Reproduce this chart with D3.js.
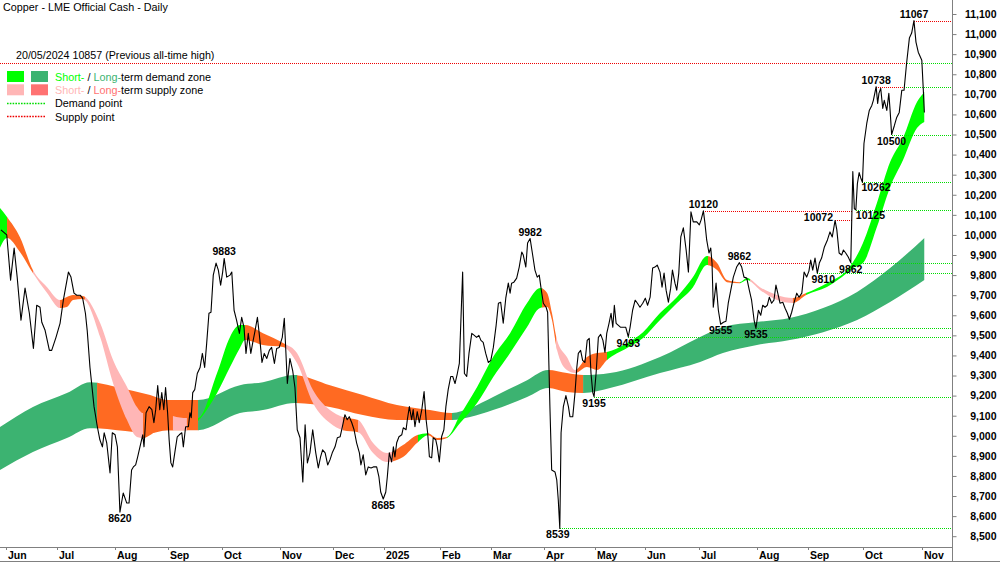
<!DOCTYPE html>
<html><head><meta charset="utf-8">
<script src="https://cdn.jsdelivr.net/npm/d3@7/dist/d3.min.js"></script>
<style>
html,body{margin:0;padding:0;background:#fff;}
svg{display:block;font-family:"Liberation Sans",Arial,sans-serif;}
</style></head>
<body><svg id="chart" width="1000" height="562"></svg>
<script>
// ---------------- DATA ----------------
const chartTitle = "Copper - LME Official Cash - Daily";
const yTickValues = d3.range(8500, 11101, 100);
const monthStarts = ["2024-06","2024-07","2024-08","2024-09","2024-10","2024-11","2024-12","2025-01","2025-02","2025-03","2025-04","2025-05","2025-06","2025-07","2025-08","2025-09","2025-10","2025-11"];
const monthLabels = ["Jun","Jul","Aug","Sep","Oct","Nov","Dec","2025","Feb","Mar","Apr","May","Jun","Jul","Aug","Sep","Oct","Nov"];
const calendarStart = "2024-05-30", calendarEnd = "2025-11-28";
const holidays = ["2024-08-26","2024-12-25","2024-12-26","2025-01-01","2025-04-18","2025-04-21","2025-05-05","2025-05-26","2025-08-25"];

// price: [trading day number since 30/05/2024, official cash price]
const price = [
[0.0,10025],[2.3,10000],[3.8,9775],[5.2,9935],[6.4,9790],[7.9,9575],[9.5,9735],[11.2,9610],[12.8,9435],[14.1,9650],[15.4,9640],[16.1,9565],[17.4,9525],[19.1,9425],[20.0,9425],[21.7,9490],[23.3,9560],[24.6,9675],[26.6,9815],[27.6,9790],[28.8,9710],[29.9,9700],[31.2,9700],[32.2,9685],[33.3,9610],[34.0,9525],[35.1,9340],[36.7,9145],[38.0,9045],[39.0,8980],[40.0,8945],[40.7,9015],[41.7,8965],[43.0,8815],[43.9,9015],[45.0,9005],[45.9,8945],[46.9,8620],[48.2,8715],[49.6,8665],[50.5,8665],[51.5,8830],[52.2,8845],[53.1,8855],[53.9,8895],[54.8,8945],[55.9,9005],[56.4,8945],[57.2,9115],[58.4,9145],[59.5,9130],[60.3,9065],[61.0,9130],[61.8,9250],[62.6,9130],[63.4,9215],[64.2,9130],[64.9,9240],[65.7,9115],[66.3,8980],[67.0,8865],[67.7,8845],[68.7,8930],[69.5,8995],[70.3,9005],[71.3,9015],[71.9,8945],[72.8,9045],[73.9,9045],[74.5,9115],[75.0,9090],[75.6,9215],[76.4,9230],[77.4,9310],[78.5,9340],[79.4,9410],[80.3,9340],[81.1,9460],[82.0,9610],[82.8,9615],[83.7,9800],[84.8,9860],[85.7,9825],[86.6,9750],[87.4,9815],[88.0,9883],[89.0,9790],[90.3,9800],[91.0,9815],[91.9,9625],[92.9,9575],[94.0,9510],[94.9,9590],[95.8,9540],[96.6,9410],[97.5,9510],[98.5,9410],[99.2,9460],[100.2,9525],[101.1,9590],[102.1,9475],[102.9,9365],[103.8,9410],[104.8,9385],[105.8,9425],[106.7,9440],[107.8,9360],[108.7,9435],[109.7,9440],[110.9,9490],[111.7,9585],[112.9,9260],[113.9,9385],[115.0,9325],[115.9,9240],[116.8,9030],[117.9,8990],[119.0,8770],[119.9,9055],[120.8,8865],[121.8,8915],[122.9,9030],[124.1,8915],[125.1,8840],[126.0,8895],[126.8,8930],[127.8,8915],[128.8,8855],[129.7,8880],[130.6,8915],[131.7,8945],[132.6,8990],[133.7,8995],[134.6,9045],[135.6,9105],[136.5,9080],[137.3,9095],[138.3,9065],[139.2,9030],[140.2,8965],[141.3,8915],[141.9,8855],[142.8,8905],[143.8,8805],[144.8,8845],[145.9,8840],[146.8,8845],[148.1,8845],[149.0,8795],[149.7,8720],[150.7,8685],[151.7,8720],[152.3,8795],[153.1,8915],[154.0,8870],[154.7,8945],[155.3,8895],[156.0,8965],[156.9,8995],[158.0,9005],[158.6,9040],[159.7,9030],[160.2,9080],[161.0,9145],[161.9,9080],[162.5,9130],[163.2,9045],[164.1,9120],[164.9,9065],[165.9,9130],[166.8,9220],[167.6,9080],[168.2,9015],[168.9,8895],[169.8,8890],[170.4,8990],[171.4,8980],[172.0,8945],[172.8,8870],[173.7,8995],[174.6,9030],[175.4,9145],[176.3,9230],[177.3,9295],[178.1,9295],[179.0,9260],[179.9,9310],[180.7,9360],[182.0,9815],[182.7,9310],[183.6,9295],[184.5,9410],[185.6,9510],[186.6,9500],[187.5,9490],[188.4,9500],[189.2,9475],[190.1,9465],[191.1,9410],[192.1,9365],[193.1,9375],[194.1,9440],[195.2,9550],[196.1,9660],[197.0,9665],[198.0,9560],[199.0,9685],[200.0,9760],[200.7,9710],[201.3,9760],[202.2,9765],[203.3,9785],[204.3,9840],[205.3,9915],[205.9,9900],[206.9,9840],[207.6,9960],[208.6,9982],[209.6,9900],[210.5,9825],[211.4,9790],[212.2,9800],[212.9,9735],[213.8,9660],[214.9,9640],[215.5,9615],[216.4,9145],[217.1,8830],[218.4,8820],[219.1,8780],[219.7,8680],[220.3,8539],[220.8,9015],[221.7,9145],[222.7,9200],[223.7,9145],[224.3,9095],[225.4,9095],[226.3,9215],[227.0,9340],[227.6,9410],[228.5,9425],[229.3,9375],[230.2,9365],[231.1,9475],[231.9,9485],[232.6,9310],[233.3,9215],[233.8,9195],[234.6,9310],[235.5,9490],[236.4,9505],[237.3,9475],[238.1,9415],[238.8,9510],[239.7,9560],[240.5,9610],[241.2,9540],[241.8,9650],[242.5,9560],[243.4,9550],[244.3,9540],[245.2,9540],[246.3,9540],[247.3,9493],[248.0,9540],[249.0,9625],[250.0,9675],[250.9,9660],[251.9,9640],[253.0,9660],[254.0,9685],[254.9,9650],[255.9,9690],[256.9,9835],[257.8,9840],[258.7,9850],[259.8,9815],[260.6,9740],[261.4,9810],[262.2,9725],[263.1,9665],[264.0,9735],[264.7,9825],[265.7,9760],[266.4,9725],[267.2,9810],[268.0,9990],[269.0,10035],[270.1,9925],[271.0,9815],[272.0,10115],[272.9,10065],[274.3,10065],[275.3,10050],[276.0,10075],[276.9,10120],[277.5,10060],[278.2,9975],[279.1,9910],[279.8,9935],[280.3,9860],[280.8,9640],[281.9,9760],[282.8,9625],[283.7,9555],[284.8,9565],[285.8,9570],[286.7,9660],[287.7,9725],[288.7,9790],[290.0,9840],[291.1,9862],[292.0,9840],[292.9,9790],[294.0,9785],[295.0,9725],[295.9,9675],[296.9,9575],[297.6,9535],[298.6,9625],[299.5,9600],[300.3,9650],[301.2,9640],[302.1,9650],[302.9,9690],[303.8,9660],[304.7,9675],[305.5,9750],[306.4,9700],[307.1,9660],[308.2,9665],[309.1,9635],[310.0,9610],[310.8,9580],[311.7,9615],[312.6,9660],[313.7,9710],[314.6,9690],[315.7,9710],[316.6,9815],[317.6,9790],[318.5,9820],[319.2,9875],[320.0,9825],[320.9,9885],[321.8,9810],[322.6,9860],[323.5,9885],[324.6,9940],[325.8,9975],[326.8,10015],[327.7,9990],[328.8,10072],[329.5,10025],[330.4,9910],[331.4,9900],[332.1,9925],[333.0,9910],[334.0,9890],[335.0,9862],[335.8,10315],[336.4,10130],[337.0,10125],[337.6,10255],[338.3,10310],[338.9,10285],[339.6,10262],[340.2,10455],[341.3,10555],[342.3,10620],[343.3,10645],[343.9,10670],[345.0,10738],[345.6,10655],[346.1,10705],[346.8,10730],[347.6,10630],[348.2,10670],[349.2,10620],[350.0,10705],[350.5,10620],[351.1,10500],[352.2,10545],[353.1,10585],[354.1,10610],[355.1,10720],[356.0,10720],[357.0,10855],[358.1,10980],[359.0,11005],[359.9,11067],[360.7,10960],[361.6,10910],[363.0,10870],[363.6,10720],[364.0,10610]
];

// long-term zone edges: [day, upper, lower]
const longZone = [
[-0.4,9043,8829],[12.6,9143,8919],[26.0,9213,8989],[35.1,9267,9038],[45.8,9242,9028],[58.8,9203,9013],[65.5,9178,9028],[77.7,9178,9028],[94.2,9252,9113],[103.3,9267,9128],[115.9,9302,9163],[129.7,9252,9143],[142.7,9203,9103],[156.1,9153,9078],[169.1,9128,9078],[177.8,9113,9078],[184.9,9138,9093],[194.0,9193,9128],[207.4,9277,9193],[215.7,9327,9238],[223.1,9312,9218],[229.5,9302,9213],[240.1,9312,9238],[259.8,9392,9312],[275.6,9492,9367],[284.6,9541,9412],[298.0,9566,9452],[311.0,9586,9477],[324.1,9636,9516],[337.5,9716,9576],[350.5,9835,9666],[364.0,9985,9775]
];
// short-term zone edges: [day, upper, lower]
const shortZone = [
[-0.4,10134,9935],[2.4,10089,9985],[7.5,9989,9915],[12.6,9825,9810],[18.2,9740,9711],[23.3,9676,9636],[26.0,9691,9641],[28.4,9701,9676],[32.3,9696,9681],[39.1,9561,9492],[44.2,9377,9262],[49.7,9243,9078],[53.6,9143,8994],[56.0,9113,8989],[62.7,9128,9028],[67.8,9098,9028],[73.3,9088,9028],[77.7,9088,9073],[85.2,9312,9213],[90.3,9492,9342],[94.2,9551,9437],[96.2,9551,9477],[103.3,9511,9452],[111.2,9462,9442],[116.7,9412,9362],[123.0,9228,9163],[129.7,9128,9063],[134.8,9093,9028],[140.8,9078,9018],[146.7,8964,8914],[152.2,8914,8869],[158.5,8954,8894],[164.0,9003,8964],[168.3,9013,9003],[171.9,8989,8979],[175.8,8994,8989],[181.0,9103,9063],[187.7,9243,9163],[194.0,9392,9292],[200.7,9511,9412],[207.4,9661,9541],[212.5,9736,9636],[215.3,9711,9641],[217.2,9611,9576],[219.2,9477,9427],[223.1,9392,9327],[226.3,9327,9312],[231.0,9392,9342],[235.0,9412,9327],[238.9,9417,9377],[246.8,9462,9437],[253.1,9516,9487],[259.8,9611,9576],[266.5,9691,9661],[272.8,9790,9740],[278.3,9895,9850],[282.3,9860,9825],[286.2,9775,9765],[291.3,9765,9760],[294.1,9785,9775],[299.2,9740,9726],[305.9,9701,9676],[312.2,9686,9661],[317.4,9711,9701],[325.6,9760,9741],[333.5,9825,9810],[335.9,9865,9835],[339.8,9960,9860],[345.3,10159,10039],[350.5,10363,10238],[355.6,10483,10373],[361.1,10662,10532],[364.0,10712,10562]
];
// zone states: [from day, to day, state]
const longZoneStates = [
[-0.4,37.9,"demand"],[37.9,77.7,"supply"],[77.7,116.7,"demand"],[116.7,177.8,"supply"],[177.8,216.0,"demand"],[216.0,229.5,"supply"],[229.5,364.0,"demand"]
];
const shortZoneStates = [
[-0.4,2.4,"demand"],[2.4,12.6,"supplyStrong"],[12.6,23.3,"supply"],[23.3,33.1,"supplyStrong"],[33.1,56.0,"supply"],[56.0,67.8,"supplyStrong"],[67.8,73.3,"supply"],[73.3,77.7,"supplyStrong"],[77.7,96.2,"demand"],[96.2,112.0,"supplyStrong"],[112.0,134.8,"supply"],[134.8,140.8,"supplyStrong"],[140.8,154.5,"supply"],[154.5,164.4,"supplyStrong"],[164.4,168.3,"demand"],[168.3,175.8,"supplyStrong"],[175.8,213.3,"demand"],[213.3,218.8,"supplyStrong"],[218.8,226.7,"supply"],[226.7,238.9,"supplyStrong"],[238.9,278.7,"demand"],[278.7,291.3,"supplyStrong"],[291.3,295.3,"demand"],[295.3,312.2,"supply"],[312.2,317.4,"supplyStrong"],[317.4,364.0,"demand"]
];

// supply (peaks) and demand (troughs) points: [day, value, line]
const supplyPoints = [[88.0,9883,"none"],[208.6,9982,"none"],[276.9,10120,"toBreak"],[291.1,9862,"toBreak"],[328.8,10072,"toBreak"],[345.0,10738,"flip"],[359.9,11067,"toBreak"]];
const demandPoints = [[46.9,8620,"none"],[150.7,8685,"none"],[220.3,8539,"toBreak"],[233.8,9195,"toBreak"],[247.3,9493,"toBreak"],[283.7,9555,"none"],[297.6,9535,"toBreak"],[321.8,9810,"toBreak"],[335.0,9862,"toBreak"],[337.0,10125,"toBreak"],[339.6,10262,"toBreak"],[351.1,10500,"toBreak"]];
const previousHigh = {date:"20/05/2024", value:10857, note:"(Previous all-time high)"};

// ---------------- LAYOUT / STYLE ----------------
const W = 1000, H = 562;
const plotRight = 952, plotBottom = 547;
const C = {lime:"#00ff00", sea:"#3cb371", orange:"#ff6a22", pink:"#ffb6b6", salmon:"#ff7272",
           demandDot:"#00dd00", supplyDot:"#ee0000", axis:"#808080", text:"#000"};
const labelTweaks = {"s10072":{anchor:"end",dx:-2,dy:1}, "d10125":{anchor:"start",dx:0,dy:9.5},
                     "d10262":{anchor:"start",dx:-1,dy:8.5}, "d9810":{dx:6}, "d8539":{dx:-2}};

// trading calendar
const tradingDays = [];
for (let t = new Date(calendarStart + "T00:00:00Z"); t <= new Date(calendarEnd + "T00:00:00Z"); t = new Date(t.getTime() + 864e5)) {
  const wd = t.getUTCDay(), iso = t.toISOString().slice(0, 10);
  if (wd > 0 && wd < 6 && !holidays.includes(iso)) tradingDays.push(iso);
}
const monthTickDays = monthStarts.map(m => tradingDays.findIndex(d => d.startsWith(m)));

const x = d3.scaleLinear().domain([-0.37, 374.9]).range([0, plotRight]);
const y = d3.scaleLinear().domain([8500, 11100]).range([536.2, 14]);
const lastDay = x.domain()[1];

const svg = d3.select("#chart");
svg.append("rect").attr("width", W).attr("height", H).attr("fill", "#fff");

const defs = svg.append("defs");
defs.append("clipPath").attr("id", "plotClip").append("rect")
  .attr("x", 0).attr("y", 0).attr("width", plotRight).attr("height", plotBottom);

const plot = svg.append("g").attr("clip-path", "url(#plotClip)");

// zones
function drawZone(points, states, colorOf, id) {
  const area = d3.area().x(d => x(d[0])).y0(d => y(d[2])).y1(d => y(d[1])).curve(d3.curveMonotoneX);
  const g = plot.append("g");
  states.forEach((s, i) => {
    const cid = id + i;
    defs.append("clipPath").attr("id", cid).append("rect")
      .attr("x", x(s[0])).attr("y", 0).attr("width", Math.max(0, x(s[1]) - x(s[0]) + 0.4)).attr("height", plotBottom);
    g.append("path").attr("d", area(points)).attr("fill", colorOf[s[2]]).attr("clip-path", `url(#${cid})`);
  });
}
drawZone(longZone, longZoneStates, {demand: C.sea, supply: C.orange}, "lz");
drawZone(shortZone, shortZoneStates, {demand: C.lime, supply: C.pink, supplyStrong: C.orange}, "sz");

// break finder
function breakDay(startDay, level, dir) {
  for (let i = 1; i < price.length; i++) {
    const [d0, v0] = price[i - 1], [d1, v1] = price[i];
    if (d1 <= startDay) continue;
    if (dir > 0 ? v1 > level : v1 < level) {
      const t = (level - v0) / (v1 - v0);
      return Math.max(startDay, d0 + t * (d1 - d0));
    }
  }
  return null;
}
const dotted = plot.append("g").attr("shape-rendering", "crispEdges");
function hLine(d0, d1, v, color) {
  const yy = Math.round(y(v)) + 0.5;
  dotted.append("line").attr("x1", Math.round(x(d0))).attr("x2", Math.round(x(d1))).attr("y1", yy).attr("y2", yy)
    .attr("stroke", color).attr("stroke-width", 1).attr("stroke-dasharray", "1,1");
}
// previous all-time high
{
  const b = breakDay(price[0][0], previousHigh.value, 1);
  hLine(x.domain()[0], b, previousHigh.value, C.supplyDot);
  hLine(b, lastDay, previousHigh.value, C.demandDot);
}
supplyPoints.forEach(([d, v, mode]) => {
  if (mode === "none") return;
  const b = breakDay(d, v, 1);
  hLine(d, b == null ? lastDay : b, v, C.supplyDot);
  if (mode === "flip" && b != null) hLine(b, lastDay, v, C.demandDot);
});
demandPoints.forEach(([d, v, mode]) => {
  if (mode === "none") return;
  const b = breakDay(d, v, -1);
  hLine(d, b == null ? lastDay : b, v, C.demandDot);
});

// price line
plot.append("path").datum(price)
  .attr("d", d3.line().x(d => x(d[0])).y(d => y(d[1])))
  .attr("fill", "none").attr("stroke", "#000").attr("stroke-width", 1.1).attr("stroke-linejoin", "round");

// point labels
const labels = svg.append("g").attr("font-size", "10.5px").attr("font-weight", "bold").attr("fill", "#000");
function addLabel(d, v, kind) {
  const tw = labelTweaks[(kind === "supply" ? "s" : "d") + v] || {};
  const dy = tw.dy != null ? tw.dy : (kind === "supply" ? -3 : 10);
  labels.append("text").attr("x", x(d) + (tw.dx || 0)).attr("y", y(v) + dy)
    .attr("text-anchor", tw.anchor || "middle").text(v);
}
supplyPoints.forEach(([d, v]) => addLabel(d, v, "supply"));
demandPoints.forEach(([d, v]) => addLabel(d, v, "demand"));

// previous high note
svg.append("text").attr("x", 16).attr("y", y(previousHigh.value) - 3.5)
  .attr("font-size", "10.7px").text(`${previousHigh.date} ${previousHigh.value} ${previousHigh.note}`);

// axes
const axisG = svg.append("g").attr("shape-rendering", "crispEdges");
axisG.append("line").attr("x1", plotRight + 0.5).attr("x2", plotRight + 0.5).attr("y1", 0).attr("y2", H).attr("stroke", C.axis);
axisG.append("line").attr("x1", 0).attr("x2", plotRight).attr("y1", plotBottom + 0.5).attr("y2", plotBottom + 0.5).attr("stroke", C.axis);
axisG.append("line").attr("x1", 0).attr("x2", W).attr("y1", H - 0.5).attr("y2", H - 0.5).attr("stroke", C.axis);

const yAxis = d3.axisRight(y).tickValues(yTickValues).tickSize(4).tickPadding(0).tickFormat(d3.format(","));
const yg = svg.append("g").attr("transform", `translate(${plotRight + 0.5},0)`).call(yAxis);
yg.select(".domain").remove();
yg.selectAll(".tick line").attr("stroke", C.axis);
yg.selectAll(".tick text").attr("x", 996 - plotRight).attr("text-anchor", "end")
  .attr("font-size", "10.5px").attr("font-weight", "bold").attr("font-family", '"Liberation Sans",Arial,sans-serif').attr("fill", "#000");

const xg = svg.append("g");
monthTickDays.forEach((d, i) => {
  const xx = Math.round(x(d)) + 0.5;
  xg.append("line").attr("x1", xx).attr("x2", xx).attr("y1", plotBottom).attr("y2", plotBottom + 3).attr("stroke", C.axis);
  xg.append("text").attr("x", xx + 1.5).attr("y", 559).attr("font-size", "10.5px").attr("font-weight", "bold").text(monthLabels[i]);
});

// title
svg.append("text").attr("x", 3).attr("y", 10.7).attr("font-size", "10.8px").text(chartTitle);

// legend
const lg = svg.append("g").attr("font-size", "10.8px");
const legendRows = [
  {sw:[C.lime, C.sea], parts:[["Short-", C.lime], [" / ", "#000"], ["Long-", C.sea], ["term demand zone", "#000"]]},
  {sw:[C.pink, C.salmon], parts:[["Short-", C.pink], [" / ", "#000"], ["Long-", C.salmon], ["term supply zone", "#000"]]},
  {line:C.demandDot, parts:[["Demand point", "#000"]]},
  {line:C.supplyDot, parts:[["Supply point", "#000"]]}
];
legendRows.forEach((r, i) => {
  const top = 71 + i * 13.3;
  if (r.sw) {
    lg.append("rect").attr("x", 7).attr("y", top).attr("width", 17).attr("height", 11).attr("fill", r.sw[0]);
    lg.append("rect").attr("x", 31).attr("y", top).attr("width", 17).attr("height", 11).attr("fill", r.sw[1]);
  } else {
    lg.append("line").attr("x1", 7).attr("x2", 45).attr("y1", Math.round(top + 5) + 0.5).attr("y2", Math.round(top + 5) + 0.5)
      .attr("stroke", r.line).attr("stroke-width", 1.6).attr("stroke-dasharray", "1.6,1.2");
  }
  const t = lg.append("text").attr("x", 55).attr("y", top + 9.7);
  r.parts.forEach(p => t.append("tspan").attr("fill", p[1]).text(p[0]));
});
</script>
</body></html>
